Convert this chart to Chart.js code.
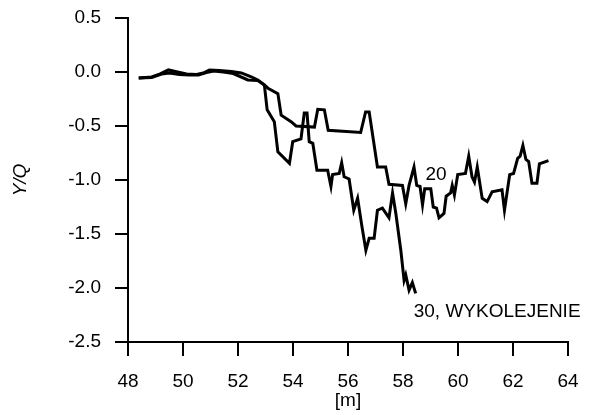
<!DOCTYPE html>
<html>
<head>
<meta charset="utf-8">
<script src="https://cdn.jsdelivr.net/npm/chart.js@4/dist/chart.umd.min.js"></script>
<style>
  html, body { margin: 0; padding: 0; background: #fff; }
  #wrap { width: 593px; height: 415px; }
</style>
</head>
<body>
<div id="wrap"><canvas id="c" width="593" height="415"></canvas></div>
<script>
// ---- data ----
const xTicks = [48, 50, 52, 54, 56, 58, 60, 62, 64];
const yTicks = [0.5, 0.0, -0.5, -1.0, -1.5, -2.0, -2.5];

const x20 = [48.39,48.86,49.22,49.51,49.87,50.24,50.56,50.85,51.11,51.47,51.83,52.36,52.72,52.96,53.09,53.45,53.57,53.93,54.11,54.78,54.90,55.14,55.28,56.46,56.64,56.77,57.07,57.37,57.49,57.98,58.10,58.22,58.40,58.50,58.62,58.71,58.79,59.01,59.10,59.22,59.31,59.49,59.57,59.73,59.79,59.87,59.99,60.27,60.39,60.51,60.60,60.70,60.88,61.06,61.24,61.60,61.69,61.88,62.02,62.17,62.26,62.36,62.47,62.57,62.69,62.87,62.96,63.29];
const y20 = [-0.056,-0.051,-0.019,-0.009,-0.023,-0.028,-0.028,-0.005,0.009,0.0,-0.014,-0.074,-0.079,-0.12,-0.15,-0.20,-0.40,-0.46,-0.50,-0.51,-0.345,-0.35,-0.54,-0.56,-0.37,-0.37,-0.88,-0.88,-1.04,-1.05,-1.22,-1.05,-0.88,-1.05,-1.06,-1.23,-1.08,-1.08,-1.25,-1.26,-1.35,-1.31,-1.15,-1.12,-1.05,-1.14,-0.95,-0.94,-0.78,-0.97,-1.02,-0.88,-1.17,-1.20,-1.11,-1.09,-1.28,-0.95,-0.94,-0.80,-0.78,-0.68,-0.81,-0.83,-1.03,-1.03,-0.85,-0.82];

const x30 = [48.39,48.86,49.15,49.47,49.80,50.13,50.49,50.74,50.96,51.32,51.76,52.12,52.48,52.72,52.96,53.06,53.32,53.45,53.87,53.99,54.29,54.41,54.51,54.59,54.72,54.87,55.26,55.38,55.44,55.68,55.77,55.86,56.04,56.21,56.35,56.50,56.65,56.77,56.95,57.07,57.25,57.49,57.62,57.74,57.92,58.04,58.10,58.22,58.34,58.46];
const y30 = [-0.056,-0.046,-0.019,0.019,0.0,-0.019,-0.023,-0.009,0.019,0.014,0.005,-0.009,-0.044,-0.074,-0.12,-0.35,-0.46,-0.74,-0.845,-0.645,-0.62,-0.38,-0.38,-0.645,-0.66,-0.91,-0.91,-1.06,-0.95,-0.94,-0.84,-0.97,-0.99,-1.28,-1.17,-1.42,-1.65,-1.54,-1.54,-1.28,-1.26,-1.35,-1.12,-1.31,-1.65,-1.93,-1.88,-2.02,-1.95,-2.05];

const seriesNames = ['20', '30, WYKOLEJENIE'];
const labelX = [59.20, 58.39];
const labelY = [-0.954, -2.22];
const labelAlign = ['center', 'left'];

const xTitle = '[m]';
const yTitle = 'Y/Q';

// ---- chart ----
const FONT = "'Liberation Sans', Arial, Helvetica, sans-serif";
const FS = 19;

function pts(xs, ys) { return xs.map((x, i) => ({ x: x, y: ys[i] })); }

const seriesLabels = {
  id: 'seriesLabels',
  afterDatasetsDraw(chart) {
    const ctx = chart.ctx;
    const xs = chart.scales.x, ys = chart.scales.y;
    ctx.save();
    ctx.fillStyle = '#000';
    ctx.font = FS + 'px ' + FONT;
    ctx.textBaseline = 'middle';
    seriesNames.forEach((t, i) => {
      ctx.textAlign = labelAlign[i];
      ctx.fillText(t, xs.getPixelForValue(labelX[i]), ys.getPixelForValue(labelY[i]));
    });
    ctx.restore();
  }
};

new Chart(document.getElementById('c'), {
  type: 'line',
  data: {
    datasets: [
      { label: seriesNames[0], data: pts(x20, y20), borderColor: '#000', borderWidth: 3, pointRadius: 0, tension: 0, fill: false },
      { label: seriesNames[1], data: pts(x30, y30), borderColor: '#000', borderWidth: 3, pointRadius: 0, tension: 0, fill: false }
    ]
  },
  options: {
    responsive: false,
    devicePixelRatio: 1,
    animation: false,
    layout: { padding: { top: 18, right: 25, left: 0, bottom: 0 } },
    plugins: { legend: { display: false }, tooltip: { enabled: false } },
    scales: {
      x: {
        type: 'linear',
        min: 48, max: 64,
        afterBuildTicks: s => { s.ticks = xTicks.map(v => ({ value: v })); },
        afterFit: s => { s.height = 73; s.paddingLeft = 0; s.paddingRight = 0; },
        ticks: { color: '#000', font: { family: FONT, size: FS }, padding: 14, maxRotation: 0, autoSkip: false, callback: v => String(v) },
        grid: { display: true, drawOnChartArea: false, drawTicks: true, tickLength: 14, color: '#000', lineWidth: 2 },
        border: { display: true, color: '#000', width: 2 },
        title: { display: true, text: xTitle, color: '#000', font: { family: FONT, size: FS }, padding: { top: 0, bottom: 3 } }
      },
      y: {
        type: 'linear',
        min: -2.5, max: 0.5,
        afterBuildTicks: s => { s.ticks = yTicks.map(v => ({ value: v })); },
        afterFit: s => { s.width = 128; s.paddingTop = 0; s.paddingBottom = 0; },
        ticks: { color: '#000', font: { family: FONT, size: FS }, padding: 14, autoSkip: false, callback: v => Number(v).toFixed(1) },
        grid: { display: true, drawOnChartArea: false, drawTicks: true, tickLength: 13, color: '#000', lineWidth: 2 },
        border: { display: true, color: '#000', width: 2 },
        title: { display: true, text: yTitle, color: '#000', font: { family: FONT, size: FS, style: 'italic' }, padding: { top: 9, bottom: 0 } }
      }
    }
  },
  plugins: [seriesLabels]
});
</script>
</body>
</html>
